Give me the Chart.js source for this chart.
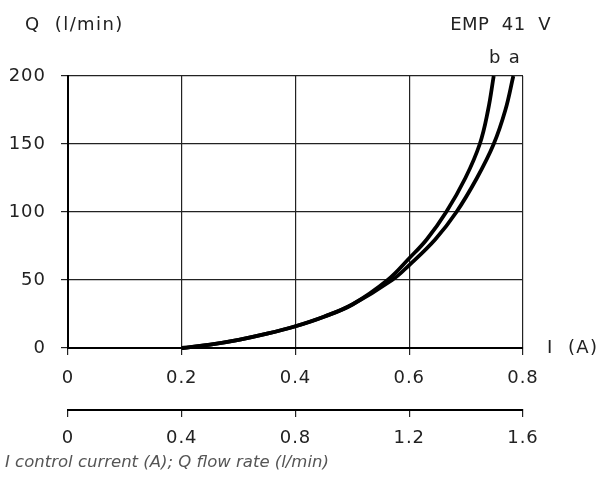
<!DOCTYPE html>
<html>
<head>
<meta charset="utf-8">
<script src="https://cdn.jsdelivr.net/npm/chart.js@4/dist/chart.umd.min.js"></script>
<style>
  html, body { margin: 0; padding: 0; background: #fff; }
</style>
</head>
<body>
<canvas id="chart1" width="599" height="477"></canvas>
<script>
// Curve a (right-hand curve)
const curveA_current = [0.2, 0.25, 0.3, 0.35, 0.4, 0.45, 0.5, 0.57, 0.6, 0.646, 0.683, 0.719, 0.7485, 0.769, 0.783];
const curveA_flow = [0, 2.5, 6, 10.5, 16, 23, 32, 50, 61, 80, 100, 125, 150, 175, 200];
// Curve b (left-hand curve)
const curveB_current = [0.2, 0.25, 0.3, 0.35, 0.4, 0.45, 0.5, 0.562, 0.6, 0.631, 0.665, 0.6987, 0.724, 0.7386, 0.7485];
const curveB_flow = [0, 2.5, 6, 10.5, 16, 23, 32, 50, 66, 80, 100, 125, 150, 175, 200];

// Axis ranges and tick steps
const currentTicks = [0, 0.8, 0.2];   // upper current scale (A): min, max, step
const currentTicks2 = [0, 1.6, 0.4];  // lower current scale (A): min, max, step
const flowTicks = [0, 200, 50];       // flow (l/min): min, max, step

const curveNames = ['a', 'b'];
const yAxisLabel = 'Q  (l/min)';
const xAxisLabel = 'I  (A)';
const modelName = 'EMP  41  V';
const caption = 'I control current (A); Q flow rate (l/min)';

const tickFont = { family: '"DejaVu Sans"', size: 18 };
const ink = '#222';

function toPoints(xs, ys) {
  return xs.map((x, i) => ({ x: x, y: ys[i] }));
}

function fmt(v) {
  return v === 0 ? '0' : v.toFixed(1);
}

// the drawing font is spaced out a bit, like the original lettering
const spacing = {
  id: 'spacing',
  beforeDraw(chart) {
    chart.ctx.letterSpacing = '1px';
  }
};

// Draws the free-standing texts (axis names, model name, curve names, caption)
const textLabels = {
  id: 'textLabels',
  afterDraw(chart) {
    const { ctx, chartArea, scales } = chart;
    ctx.save();
    ctx.fillStyle = ink;
    ctx.font = '18px "DejaVu Sans"';
    ctx.letterSpacing = '1.4px';
    ctx.textBaseline = 'middle';
    ctx.textAlign = 'left';
    ctx.fillText(yAxisLabel, 25, 25);
    ctx.fillText(xAxisLabel, chartArea.right + 24, scales.y.getPixelForValue(0));
    ctx.textAlign = 'right';
    ctx.letterSpacing = '0.5px';
    ctx.fillText(modelName, 551, 25);
    // curve names just above the curve ends
    ctx.textAlign = 'center';
    ctx.letterSpacing = '0px';
    const ends = [
      [curveA_current[curveA_current.length - 1], curveA_flow[curveA_flow.length - 1]],
      [curveB_current[curveB_current.length - 1], curveB_flow[curveB_flow.length - 1]],
    ];
    ends.forEach((e, i) => {
      ctx.fillText(curveNames[i], scales.x.getPixelForValue(e[0]) + 1, scales.y.getPixelForValue(e[1]) - 18);
    });
    // caption under the chart
    ctx.textAlign = 'left';
    ctx.fillStyle = '#555';
    ctx.font = 'italic 16.5px "DejaVu Sans"';
    ctx.fillText(caption, 5, 463);
    ctx.restore();
  }
};

const ctx1 = document.getElementById('chart1').getContext('2d');
window.myLineChart = new Chart(ctx1, {
  type: 'line',
  data: {
    datasets: [
      {
        label: curveNames[0],
        data: toPoints(curveA_current, curveA_flow),
        borderColor: '#000',
        borderWidth: 3.8,
        pointRadius: 0,
        fill: false,
        tension: 0.4,
        clip: 4,
      },
      {
        label: curveNames[1],
        data: toPoints(curveB_current, curveB_flow),
        borderColor: '#000',
        borderWidth: 3.8,
        pointRadius: 0,
        fill: false,
        tension: 0.4,
        clip: 4,
      },
    ],
  },
  options: {
    responsive: false,
    animation: false,
    layout: { padding: { top: 76, right: 76, left: 4, bottom: 29 } },
    plugins: {
      legend: { display: false },
      tooltip: { enabled: false },
    },
    scales: {
      x: {
        type: 'linear',
        position: 'bottom',
        min: currentTicks[0],
        max: currentTicks[1],
        ticks: { stepSize: currentTicks[2], color: ink, font: tickFont, padding: 13, callback: fmt, maxRotation: 0 },
        grid: { color: ink, lineWidth: 1.2, tickLength: 7 },
        border: { display: true, color: '#000', width: 2 },
        afterFit: (s) => { s.height = 62; },
      },
      x2: {
        type: 'linear',
        position: 'bottom',
        min: currentTicks2[0],
        max: currentTicks2[1],
        ticks: { stepSize: currentTicks2[2], color: ink, font: tickFont, padding: 11, callback: fmt, maxRotation: 0 },
        grid: { color: ink, lineWidth: 1.2, tickLength: 7, drawOnChartArea: false },
        border: { display: true, color: '#000', width: 2 },
        afterFit: (s) => { s.height = 38; },
      },
      y: {
        min: flowTicks[0],
        max: flowTicks[1],
        ticks: { stepSize: flowTicks[2], color: ink, font: tickFont, padding: 15 },
        grid: { color: ink, lineWidth: 1.2, tickLength: 7 },
        border: { display: true, color: '#000', width: 2 },
        afterFit: (s) => { s.width = 64; },
      },
    },
  },
  plugins: [spacing, textLabels],
});
</script>
</body>
</html>
